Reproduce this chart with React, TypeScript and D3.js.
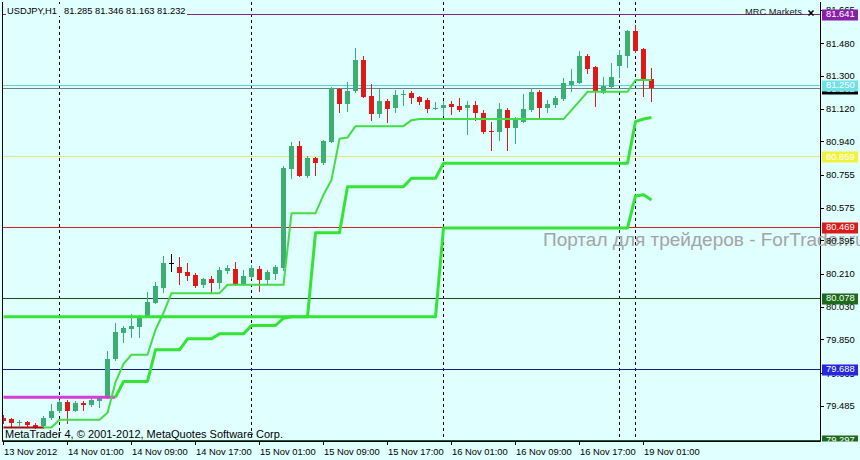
import React from "react";
import * as d3 from "d3";

// ---------- data ----------
const timeLabels = [
  "13 Nov 2012", "14 Nov 01:00", "14 Nov 09:00", "14 Nov 17:00", "15 Nov 01:00",
  "15 Nov 09:00", "15 Nov 17:00", "16 Nov 01:00", "16 Nov 09:00", "16 Nov 17:00", "19 Nov 01:00",
];
const timeLabelBars = [0, 8, 16, 24, 32, 40, 48, 56, 64, 72, 80];
const separatorBars = [7, 31, 55, 77, 79];

const priceTicks = [81.665, 81.48, 81.3, 81.12, 80.94, 80.755, 80.575, 80.395, 80.21, 80.03, 79.85, 79.665, 79.485];

const open = [
  79.419, 79.411, 79.392, 79.397, 79.381, 79.372, 79.419, 79.455, 79.507, 79.459,
  79.502, 79.491, 79.513, 79.536, 79.744, 79.888, 79.909, 79.921, 79.980, 80.053,
  80.136, 80.273, 80.251, 80.224, 80.206, 80.151, 80.182, 80.160, 80.229, 80.237,
  80.154, 80.196, 80.237, 80.178, 80.211, 80.246, 80.787, 80.915, 80.750, 80.847,
  80.820, 80.939, 81.229, 81.144, 81.218, 81.388, 81.190, 81.091, 81.164, 81.126,
  81.196, 81.208, 81.183, 81.168, 81.122, 81.122, 81.146, 81.135, 81.122, 81.141,
  81.098, 80.998, 80.994, 81.113, 81.012, 81.049, 81.113, 81.210, 81.122, 81.141,
  81.172, 81.251, 81.262, 81.412, 81.347, 81.208, 81.241, 81.355, 81.412, 81.548,
  81.446, 81.285,
];
const high = [
  79.436, 79.419, 79.408, 79.403, 79.392, 79.430, 79.496, 79.518, 79.518, 79.513,
  79.513, 79.529, 79.540, 79.784, 79.943, 79.925, 79.991, 79.986, 80.114, 80.169,
  80.310, 80.321, 80.303, 80.270, 80.215, 80.191, 80.200, 80.251, 80.259, 80.279,
  80.233, 80.261, 80.255, 80.233, 80.261, 80.805, 80.939, 80.944, 80.860, 80.856,
  80.948, 81.241, 81.234, 81.269, 81.452, 81.410, 81.256, 81.227, 81.172, 81.223,
  81.223, 81.219, 81.190, 81.177, 81.159, 81.161, 81.164, 81.177, 81.164, 81.164,
  81.112, 81.049, 81.153, 81.122, 81.076, 81.201, 81.232, 81.223, 81.168, 81.190,
  81.287, 81.337, 81.440, 81.421, 81.356, 81.293, 81.374, 81.443, 81.552, 81.581,
  81.454, 81.346,
];
const low = [
  79.392, 79.375, 79.381, 79.375, 79.364, 79.364, 79.414, 79.452, 79.392, 79.458,
  79.463, 79.485, 79.480, 79.529, 79.738, 79.835, 79.866, 79.866, 79.975, 80.052,
  80.114, 80.229, 80.156, 80.178, 80.138, 80.141, 80.110, 80.134, 80.215, 80.151,
  80.151, 80.189, 80.119, 80.163, 80.182, 80.233, 80.737, 80.747, 80.743, 80.756,
  80.816, 80.937, 81.104, 81.109, 81.212, 81.185, 81.058, 81.076, 81.049, 81.104,
  81.141, 81.153, 81.144, 81.104, 81.117, 81.086, 81.091, 81.108, 80.980, 81.059,
  80.985, 80.893, 80.948, 80.893, 80.930, 81.047, 81.108, 81.069, 81.104, 81.128,
  81.168, 81.219, 81.260, 81.314, 81.135, 81.207, 81.240, 81.296, 81.348, 81.432,
  81.190, 81.163,
];
const close = [
  79.403, 79.392, 79.394, 79.381, 79.370, 79.419, 79.459, 79.507, 79.454, 79.503,
  79.491, 79.518, 79.526, 79.742, 79.892, 79.916, 79.925, 79.971, 80.059, 80.145,
  80.273, 80.273, 80.218, 80.202, 80.147, 80.182, 80.160, 80.233, 80.246, 80.154,
  80.200, 80.242, 80.178, 80.220, 80.248, 80.792, 80.915, 80.750, 80.847, 80.823,
  80.943, 81.232, 81.146, 81.219, 81.388, 81.186, 81.091, 81.163, 81.117, 81.196,
  81.203, 81.177, 81.159, 81.117, 81.124, 81.141, 81.128, 81.113, 81.139, 81.098,
  80.994, 80.995, 81.117, 81.012, 81.059, 81.117, 81.214, 81.122, 81.146, 81.177,
  81.260, 81.273, 81.412, 81.341, 81.214, 81.245, 81.293, 81.416, 81.548, 81.435,
  81.278, 81.232,
];

// indicator lines (staircase trailing levels)
const trendFast = [
  79.366, 79.366, 79.366, 79.366, 79.366, 79.366, 79.366, 79.408, 79.408, 79.408,
  79.408, 79.408, 79.408, 79.447, 79.615, 79.716, 79.766, 79.766, 79.766, 79.903,
  79.997, 80.105, 80.105, 80.105, 80.105, 80.105, 80.105, 80.105, 80.151, 80.151,
  80.151, 80.151, 80.151, 80.151, 80.151, 80.151, 80.545, 80.545, 80.545, 80.545,
  80.646, 80.728, 80.954, 80.961, 81.024, 81.024, 81.024, 81.024, 81.024, 81.024,
  81.024, 81.057, 81.063, 81.063, 81.063, 81.063, 81.063, 81.063, 81.063, 81.063,
  81.063, 81.063, 81.063, 81.063, 81.063, 81.063, 81.063, 81.063, 81.063, 81.063,
  81.063, 81.112, 81.162, 81.213, 81.213, 81.213, 81.213, 81.213, 81.213, 81.278,
  81.278, 81.278,
];
const trendMid = [
  79.975, 79.975, 79.975, 79.975, 79.975, 79.975, 79.975, 79.975, 79.975, 79.975,
  79.975, 79.975, 79.975, 79.975, 79.975, 79.975, 79.975, 79.975, 79.975, 79.975,
  79.975, 79.975, 79.975, 79.975, 79.975, 79.975, 79.975, 79.975, 79.975, 79.975,
  79.975, 79.975, 79.975, 79.975, 79.975, 79.975, 79.975, 79.975, 79.975, 80.437,
  80.437, 80.437, 80.437, 80.691, 80.691, 80.691, 80.691, 80.691, 80.691, 80.691,
  80.691, 80.737, 80.737, 80.737, 80.737, 80.820, 80.820, 80.820, 80.820, 80.820,
  80.820, 80.820, 80.820, 80.820, 80.820, 80.820, 80.820, 80.820, 80.820, 80.820,
  80.820, 80.820, 80.820, 80.820, 80.820, 80.820, 80.820, 80.820, 80.820, 81.049,
  81.063, 81.071,
];
const trendSlow = [
  79.532, 79.532, 79.532, 79.532, 79.532, 79.532, 79.532, 79.532, 79.532, 79.532,
  79.532, 79.532, 79.532, 79.532, 79.532, 79.619, 79.619, 79.619, 79.619, 79.793,
  79.793, 79.793, 79.793, 79.854, 79.854, 79.854, 79.854, 79.881, 79.881, 79.881,
  79.881, 79.927, 79.927, 79.927, 79.927, 79.967, 79.975, 79.975, 79.975, 79.975,
  79.975, 79.975, 79.975, 79.975, 79.975, 79.975, 79.975, 79.975, 79.975, 79.975,
  79.975, 79.975, 79.975, 79.975, 79.975, 80.464, 80.464, 80.464, 80.464, 80.464,
  80.464, 80.464, 80.464, 80.464, 80.464, 80.464, 80.464, 80.464, 80.464, 80.464,
  80.464, 80.464, 80.464, 80.464, 80.464, 80.464, 80.464, 80.464, 80.464, 80.640,
  80.646, 80.618,
];
const fastDownUntil = 5;  // bars drawn in the "down" colour
const slowDownUntil = 14;

const levelPrices = [81.641, 81.232, 81.25, 80.859, 80.469, 80.078, 79.688, 79.297];

const symbolName = "USDJPY,H1";
const brokerName = "MRC Markets";
const copyright = "MetaTrader 4, \u00a9 2001-2012, MetaQuotes Software Corp.";
const watermark = "Портал для трейдеров - ForTrader.ru";

// ---------- styles ----------
const BG = "#e0ffff";
const FONT = "'Liberation Sans', Arial, sans-serif";
const UP = "#3cae74";
const DOWN = "#e01818";
const TREND = "#34e434";
const TREND_THIN = "#44dc44";
const levelLine = ["#7b2d7b", "#6b8089", "#5fd3da", "#e4e87a", "#cc2424", "#1f4a22", "#1c1c7c", "#1f5a22"];
const levelFill = ["#8a1fa8", "#000000", "#6fe2e8", "#f2f23c", "#dd1a1a", "#1c6a1c", "#2626e0", "#1c6a1c"];

const PL = 2, PT = 2, PR = 820, PB = 441;

export default function App() {
  const n = open.length;
  const x = d3.scaleLinear().domain([0, n - 1]).range([3, 3 + 8 * (n - 1)]);
  const y = d3.scaleLinear().domain([79.297, 81.641]).range([440, 14]);
  const ry = (v: number) => Math.round(y(v));
  const seg = (vals: number[], from: number, to: number) =>
    d3.line<number>().x((i) => x(i) + 0.5).y((i) => y(vals[i]))(d3.range(from, to + 1)) || "";
  const fmt = d3.format(".3f");

  return (
    <svg width={860} height={460} style={{ position: "absolute", left: 0, top: 0, background: BG }}
      fontFamily={FONT}>
      <defs>
        <clipPath id="plot"><rect x={PL} y={PT} width={PR - PL} height={PB - PT} /></clipPath>
        <clipPath id="labels"><rect x={PR} y={0} width={40} height={PB + 0.5} /></clipPath>
      </defs>
      <rect x={0} y={0} width={860} height={460} fill={BG} />

      <g clipPath="url(#plot)">
        {/* period separators */}
        {separatorBars.map((b) => (
          <line key={"s" + b} x1={x(b) + 0.5} x2={x(b) + 0.5} y1={PT} y2={PB}
            stroke="#000" strokeWidth={1} strokeDasharray="3,3" />
        ))}
        {/* horizontal levels */}
        {levelPrices.map((p, k) => (
          <line key={"h" + k} x1={PL} x2={PR} y1={ry(p) + 0.5} y2={ry(p) + 0.5}
            stroke={levelLine[k]} strokeWidth={1} />
        ))}
        {/* candles */}
        {d3.range(n).map((i) => {
          const xi = x(i);
          const o = open[i], c = close[i];
          const doji = o === c;
          const col = doji ? "#000" : c > o ? UP : DOWN;
          const top = ry(Math.max(o, c));
          const bot = ry(Math.min(o, c));
          return (
            <g key={"c" + i}>
              <line x1={xi + 0.5} x2={xi + 0.5} y1={ry(high[i])} y2={ry(low[i]) + 1} stroke={col} strokeWidth={1} />
              {doji ? (
                <line x1={xi - 2} x2={xi + 3} y1={top + 0.5} y2={top + 0.5} stroke={col} strokeWidth={1} />
              ) : (
                <rect x={xi - 2} y={top} width={5} height={Math.max(1, bot - top)} fill={col} />
              )}
            </g>
          );
        })}
        {/* indicator lines */}
        <path d={seg(trendMid, 0, n - 1)} fill="none" stroke={TREND} strokeWidth={3} strokeLinejoin="round" />
        <path d={seg(trendSlow, 0, slowDownUntil)} fill="none" stroke="#d83cd8" strokeWidth={3} />
        <path d={seg(trendSlow, slowDownUntil, n - 1)} fill="none" stroke={TREND} strokeWidth={3} strokeLinejoin="round" />
        <path d={seg(trendFast, 0, fastDownUntil)} fill="none" stroke="#a80c0c" strokeWidth={2} />
        <path d={seg(trendFast, fastDownUntil, n - 1)} fill="none" stroke={TREND_THIN} strokeWidth={2} strokeLinejoin="round" />

        {/* title */}
        <rect x={6} y={4} width={181} height={12} fill={BG} />
        <text x={7} y={14} fontSize={9.3} fill="#000">{symbolName}</text>
        <text x={64} y={14} fontSize={9.3} fill="#000">
          {[open[n - 1], high[n - 1], low[n - 1], close[n - 1]].map(fmt).join(" ")}
        </text>
        <text x={745} y={15} fontSize={9.3} fill="#222">{brokerName}</text>
        <path d="M808.5,10.5 L813.5,15.5 M813.5,10.5 L808.5,15.5" stroke="#000" strokeWidth={1.5} />
        <text x={5} y={438} fontSize={11} fill="#000">{copyright}</text>
      </g>

      {/* frame */}
      <path d={`M${PL + 0.5},${PT} V${PB + 0.5} H${PR + 0.5} V${PT}`} fill="none" stroke="#000" strokeWidth={1} />

      {/* watermark (under the axis labels, as in the terminal) */}
      <text x={543} y={246} fontSize={19} fill="#a4a4a4">{watermark}</text>

      {/* price axis */}
      {priceTicks.map((t) => (
        <g key={"t" + t}>
          <line x1={PR} x2={PR + 4} y1={ry(t) + 0.5} y2={ry(t) + 0.5} stroke="#000" />
          <text x={826} y={y(t) + 3.4} fontSize={9.4} fill="#000">{fmt(t)}</text>
        </g>
      ))}
      <g clipPath="url(#labels)">
        {levelPrices.map((p, k) => (
          <g key={"l" + k}>
            <rect x={822} y={ry(p) - 4.5} width={36} height={11} fill={levelFill[k]} />
            <text x={826} y={y(p) + 3.4} fontSize={9.4} fill="#fff">{fmt(p)}</text>
          </g>
        ))}
      </g>

      {/* time axis */}
      {timeLabelBars.map((b, k) => (
        <g key={"x" + b}>
          <line x1={x(b) + 0.5} x2={x(b) + 0.5} y1={PB} y2={PB + 4} stroke="#000" />
          <text x={x(b) + 1} y={455} fontSize={9.4} fill="#000">{timeLabels[k]}</text>
        </g>
      ))}
    </svg>
  );
}
